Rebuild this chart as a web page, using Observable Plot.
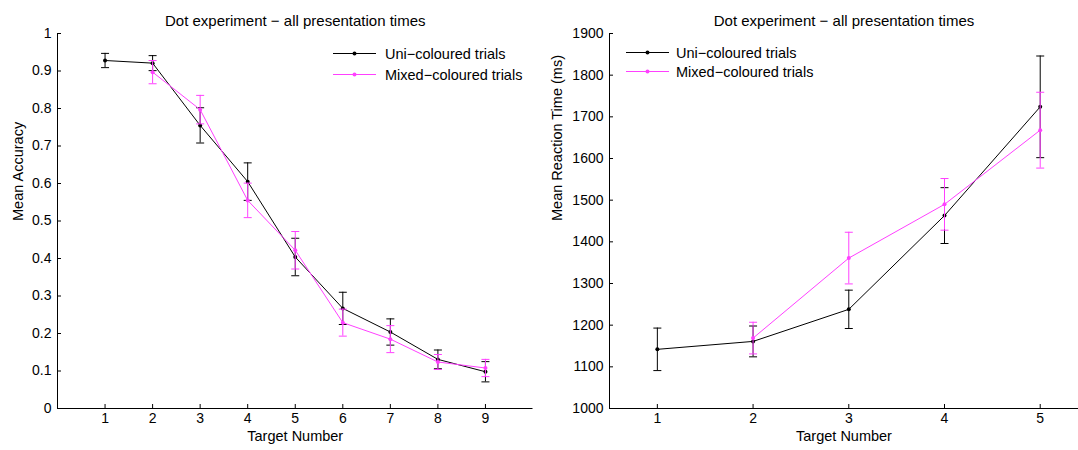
<!DOCTYPE html>
<html>
<head>
<meta charset="utf-8">
<script src="https://cdn.jsdelivr.net/npm/d3@7"></script>
<script src="https://cdn.jsdelivr.net/npm/@observablehq/plot@0.6"></script>
<style>
  body { margin: 0; background: #fff; font-family: "Liberation Sans", Arial, sans-serif; }
  #chart { position: relative; width: 1078px; height: 450px; overflow: hidden; background: #fff; }
  .panel { position: absolute; top: 0; }
  .legend { position: absolute; font-size: 14.5px; color: #000; }
  .legend .row { display: flex; align-items: center; white-space: nowrap; }
  .legend svg { display: block; }
</style>
</head>
<body>
<div id="chart"></div>
<script>
// ---- Data -------------------------------------------------------------
const title = "Dot experiment \u2212 all presentation times";
const seriesNames = ["Uni\u2212coloured trials", "Mixed\u2212coloured trials"];
const seriesColors = ["#000000", "#ff40ff"];

// Accuracy panel
const accTargetsUni = [1, 2, 3, 4, 5, 6, 7, 8, 9];
const accUni    = [0.928, 0.921, 0.755, 0.605, 0.404, 0.267, 0.204, 0.131, 0.098];
const accUniErr = [0.019, 0.020, 0.047, 0.050, 0.050, 0.043, 0.035, 0.025, 0.027];
const accTargetsMix = [2, 3, 4, 5, 6, 7, 8, 9];
const accMix    = [0.897, 0.797, 0.555, 0.422, 0.229, 0.185, 0.124, 0.108];
const accMixErr = [0.031, 0.038, 0.046, 0.050, 0.036, 0.036, 0.020, 0.023];
const accXTicks = [1, 2, 3, 4, 5, 6, 7, 8, 9];
const accYTicks = [0, 0.1, 0.2, 0.3, 0.4, 0.5, 0.6, 0.7, 0.8, 0.9, 1];

// Reaction-time panel
const rtTargetsUni = [1, 2, 3, 4, 5];
const rtUni    = [1142, 1161, 1238, 1463, 1724];
const rtUniErr = [51, 37, 46, 67, 122];
const rtTargetsMix = [2, 3, 4, 5];
const rtMix    = [1169, 1361, 1490, 1668];
const rtMixErr = [38, 62, 62, 91];
const rtXTicks = [1, 2, 3, 4, 5];
const rtYTicks = [1000, 1100, 1200, 1300, 1400, 1500, 1600, 1700, 1800, 1900];

// ---- Helpers ----------------------------------------------------------
// horizontal error-bar cap drawn as a custom dot symbol
const capSymbol = {
  draw(ctx, size) {
    const r = Math.sqrt(size / Math.PI);
    ctx.moveTo(-r, 0);
    ctx.lineTo(r, 0);
  }
};

function rows(targets, means, errs) {
  return targets.map((t, i) => ({ t, m: means[i], lo: means[i] - errs[i], hi: means[i] + errs[i] }));
}

function seriesMarks(data, color) {
  return [
    Plot.ruleX(data, { x: "t", y1: "lo", y2: "hi", stroke: color, strokeWidth: 1 }),
    Plot.dot(data, { x: "t", y: "hi", symbol: capSymbol, r: 4, stroke: color, fill: "none", strokeWidth: 1 }),
    Plot.dot(data, { x: "t", y: "lo", symbol: capSymbol, r: 4, stroke: color, fill: "none", strokeWidth: 1 }),
    Plot.line(data, { x: "t", y: "m", stroke: color, strokeWidth: 1 }),
    Plot.dot(data, { x: "t", y: "m", r: 2, fill: color, stroke: "none" })
  ];
}

function panel({ width, marginLeft, marginRight, xDomain, yDomain, xTicks, yTicks, yFormat, yLabel, yLabelDx, series }) {
  const marginTop = 33, marginBottom = 42, height = 450;
  const frameW = width - marginLeft - marginRight;
  const frameH = height - marginTop - marginBottom;
  return Plot.plot({
    width, height, marginLeft, marginRight, marginTop, marginBottom,
    style: { fontFamily: "Liberation Sans, Arial, sans-serif", fontSize: "14px", color: "#000", background: "#fff", overflow: "visible" },
    x: { domain: xDomain },
    y: { domain: yDomain },
    marks: [
      Plot.axisX({ ticks: xTicks, tickSize: 0, tickPadding: 5, label: null, tickFormat: d => String(d) }),
      Plot.axisY({ ticks: yTicks, tickSize: 0, tickPadding: 6, label: null, tickFormat: yFormat }),
      // inward-pointing tick marks
      Plot.tickX(xTicks, { x: d => d, insetTop: frameH - 4, stroke: "#000" }),
      Plot.tickY(yTicks, { y: d => d, insetRight: frameW - 4, stroke: "#000" }),
      Plot.ruleX([xDomain[0]], { stroke: "#000" }),
      Plot.ruleY([yDomain[0]], { stroke: "#000" }),
      ...series.flatMap(s => seriesMarks(s.data, s.color)),
      Plot.text([title], { frameAnchor: "top", dy: -18, fontSize: 15 }),
      Plot.text(["Target Number"], { frameAnchor: "bottom", dy: 32, fontSize: 14.5 }),
      Plot.text([yLabel], { frameAnchor: "left", dx: yLabelDx, rotate: -90, fontSize: 14.5 })
    ]
  });
}

function legend(left, top, rowHeight, gap) {
  const div = document.createElement("div");
  div.className = "legend";
  div.style.left = left + "px";
  div.style.top = top + "px";
  seriesNames.forEach((name, i) => {
    const row = document.createElement("div");
    row.className = "row";
    row.style.height = rowHeight + "px";
    row.innerHTML =
      `<svg width="43" height="${rowHeight}" style="margin-right:${gap}px">` +
      `<line x1="0" y1="${rowHeight / 2}" x2="43" y2="${rowHeight / 2}" stroke="${seriesColors[i]}" stroke-width="1"/>` +
      `<circle cx="21.5" cy="${rowHeight / 2}" r="2" fill="${seriesColors[i]}"/></svg><span>${name}</span>`;
    div.appendChild(row);
  });
  return div;
}

// ---- Layout -----------------------------------------------------------
const chart = document.getElementById("chart");

const left = document.createElement("div");
left.className = "panel";
left.style.left = "0px";
left.appendChild(panel({
  width: 545, marginLeft: 57, marginRight: 12.5,
  xDomain: [0, 10], yDomain: [0, 1],
  xTicks: accXTicks, yTicks: accYTicks,
  yFormat: d => String(+d.toFixed(1)),
  yLabel: "Mean Accuracy", yLabelDx: -39,
  series: [
    { data: rows(accTargetsUni, accUni, accUniErr), color: seriesColors[0] },
    { data: rows(accTargetsMix, accMix, accMixErr), color: seriesColors[1] }
  ]
}));
left.appendChild(legend(333, 43, 21, 9));
chart.appendChild(left);

const right = document.createElement("div");
right.className = "panel";
right.style.left = "545px";
right.appendChild(panel({
  width: 533, marginLeft: 64, marginRight: 0,
  xDomain: [0.5, 5.4], yDomain: [1000, 1900],
  xTicks: rtXTicks, yTicks: rtYTicks,
  yFormat: d => String(d),
  yLabel: "Mean Reaction Time (ms)", yLabelDx: -52,
  series: [
    { data: rows(rtTargetsUni, rtUni, rtUniErr), color: seriesColors[0] },
    { data: rows(rtTargetsMix, rtMix, rtMixErr), color: seriesColors[1] }
  ]
}));
right.appendChild(legend(81, 43, 19, 7));
chart.appendChild(right);
</script>
</body>
</html>
